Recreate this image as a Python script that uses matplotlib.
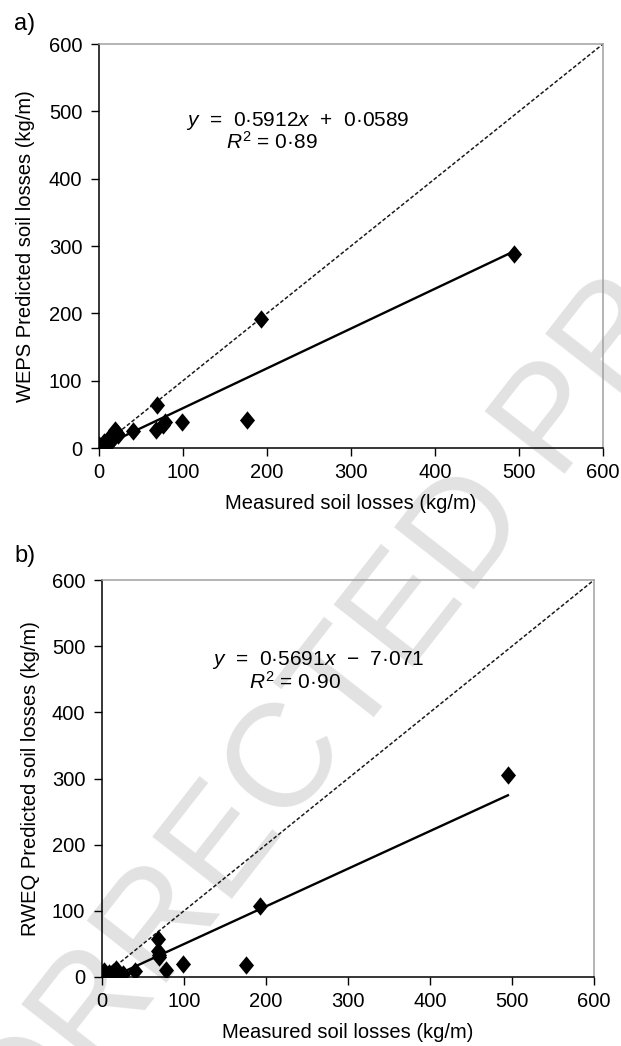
import numpy as np
import matplotlib
matplotlib.use("Agg")
import matplotlib.pyplot as plt
from matplotlib.path import Path

plt.rcParams['font.family'] = ['Liberation Sans', 'DejaVu Sans']
plt.rcParams['mathtext.fontset'] = 'custom'
plt.rcParams['mathtext.rm'] = 'Liberation Sans'
plt.rcParams['mathtext.it'] = 'Liberation Sans:italic'

# measured vs predicted soil losses (kg/m)
weps_measured = [0, 2, 4, 6, 8, 11, 14, 16, 19, 21, 23, 40, 68, 69, 76, 78, 99, 176, 193, 494]
weps_predicted = [4, 0, 1, 9, 3, 14, 10, 15, 27, 22, 19, 25, 27, 64, 34, 38, 39, 42, 192, 288]

rweq_measured = [0, 2, 4, 6, 9, 11, 14, 17, 21, 25, 40, 68, 68, 69, 70, 78, 99, 175, 193, 495]
rweq_predicted = [0, 9, 3, 0, 6, 4, 7, 12, 3, 5, 9, 58, 40, 33, 30, 10, 19, 18, 108, 306]

# fitted trend lines
weps_slope, weps_icept, weps_r2 = 0.5912, 0.0589, "0·89"
rweq_slope, rweq_icept, rweq_r2 = 0.5691, -7.071, "0·90"

ticks = [0, 100, 200, 300, 400, 500, 600]

# slightly tall diamond marker
diamond = Path([(0, 1), (0.82, 0), (0, -1), (-0.82, 0), (0, 1)],
               [Path.MOVETO, Path.LINETO, Path.LINETO, Path.LINETO, Path.CLOSEPOLY])

fig = plt.figure(figsize=(6.21, 10.46), dpi=100)

fig.text(324 / 621, 1 - 720 / 1046, "UNCORRECTED PROOF", fontsize=106, color='#e2e2e2',
         rotation=52, ha='center', va='center', zorder=-1)


def panel(rect, mx, py, slope, icept, eq, r2, ylabel, eqpos, r2pos):
    ax = fig.add_axes(rect)
    ax.set_facecolor('none')
    ax.plot([0, 600], [0, 600], color='#1a1a1a', lw=1.1, ls=(0, (2.5, 1.4)), zorder=2)
    xs = np.array([0, max(mx)])
    ax.plot(xs, slope * xs + icept, color='black', lw=1.7, zorder=3)
    ax.scatter(mx, py, marker=diamond, s=175, color='black', linewidths=0, zorder=4)
    ax.set_xlim(0, 600)
    ax.set_ylim(0, 600)
    ax.set_xticks(ticks)
    ax.set_yticks(ticks)
    ax.tick_params(direction='out', length=6, width=1, labelsize=14.5, pad=5)
    ax.tick_params(axis='y', pad=6)
    for side in ['left', 'bottom']:
        ax.spines[side].set_color('black')
        ax.spines[side].set_linewidth(1.1)
    for side in ['top', 'right']:
        ax.spines[side].set_color('#a0a0a0')
        ax.spines[side].set_linewidth(1.1)
    ax.set_xlabel("Measured soil losses (kg/m)", fontsize=14.5)
    ax.set_ylabel(ylabel, fontsize=14.5)
    ax.xaxis.set_label_coords(0.5, -0.115)
    ax.yaxis.set_label_coords(-0.127, 0.5)
    ax.text(eqpos[0], eqpos[1], eq, fontsize=15, ha='center', va='center')
    ax.text(r2pos[0], r2pos[1], "$\\mathit{R}^2$ = " + r2, fontsize=15,
            ha='center', va='center')
    return ax


panel([99 / 621, 1 - 448 / 1046, 504 / 621, 404 / 1046],
      weps_measured, weps_predicted, weps_slope, weps_icept,
      "$\\mathit{y}$  =  0·5912$\\mathit{x}$  +  0·0589", weps_r2,
      "WEPS Predicted soil losses (kg/m)", (237, 485), (206, 455))

panel([102 / 621, 1 - 977 / 1046, 492 / 621, 397 / 1046],
      rweq_measured, rweq_predicted, rweq_slope, rweq_icept,
      "$\\mathit{y}$  =  0·5691$\\mathit{x}$  −  7·071", rweq_r2,
      "RWEQ Predicted soil losses (kg/m)", (263, 479), (235, 446))

fig.text(14 / 621, 1 - 30 / 1046, "a)", fontsize=17, ha='left', va='baseline')
fig.text(14 / 621, 1 - 562 / 1046, "b)", fontsize=17, ha='left', va='baseline')

fig.savefig("out.png", dpi=100)
